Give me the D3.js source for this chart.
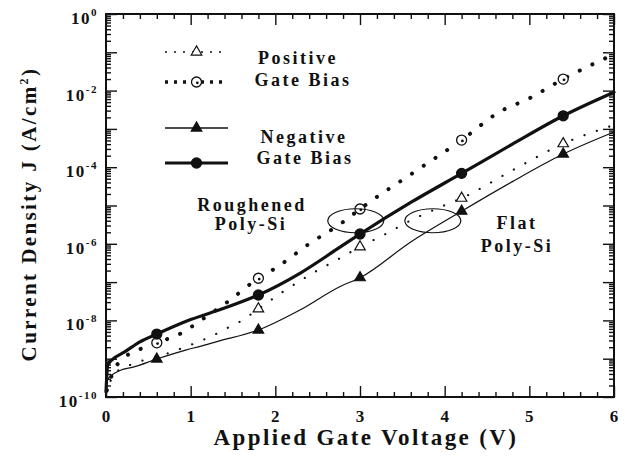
<!DOCTYPE html>
<html>
<head>
<meta charset="utf-8">
<script src="https://cdn.jsdelivr.net/npm/d3@7"></script>
<style>
  body { margin: 0; background: #fff; }
</style>
</head>
<body>
<div id="chart"></div>
<script>
// values: voltage (V) and current density (A/cm^2)
const negRoughV = [0, 0.02, 0.07, 0.22, 0.4, 0.6, 1.0, 1.4, 1.8, 2.3, 2.75, 3.0, 3.6, 4.2, 4.8, 5.4, 6.0];
const negRoughJ = [1.35e-10, 6.9e-10, 9.3e-10, 1.5e-9, 2.75e-9, 4.4e-9, 1.05e-8, 2.1e-8, 4.6e-8, 1.75e-7, 7.8e-7, 1.8e-6, 1.2e-5, 6.9e-5, 4.0e-4, 2.2e-3, 9.1e-3];

const posRoughV = [0.01, 0.04, 0.13, 0.43, 0.6, 0.93, 1.09, 1.44, 1.8, 2.0, 2.4, 2.8, 3.0, 3.6, 4.2, 4.65, 5.0, 5.4, 6.0];
const posRoughJ = [1.5e-10, 2.45e-10, 6.9e-10, 1.9e-9, 2.6e-9, 5.2e-9, 9.0e-9, 3.1e-8, 1.26e-7, 2.3e-7, 1.0e-6, 3.7e-6, 8.1e-6, 6.5e-5, 5.1e-4, 2.8e-3, 6.3e-3, 2.0e-2, 8.9e-2];

const posFlatV = [0, 0.1, 0.3, 0.6, 0.76, 0.93, 1.09, 1.25, 1.43, 1.59, 1.8, 2.09, 2.44, 2.78, 3.0, 3.28, 3.61, 3.96, 4.2, 4.8, 5.4, 6.0];
const posFlatJ = [1.26e-10, 4.0e-10, 7.1e-10, 1.12e-9, 1.45e-9, 2.0e-9, 2.75e-9, 3.9e-9, 6.3e-9, 9.5e-9, 2.0e-8, 5.6e-8, 1.7e-7, 4.4e-7, 8.3e-7, 1.7e-6, 4.2e-6, 9.3e-6, 1.55e-5, 8.3e-5, 4.1e-4, 1.26e-3];

const negFlatV = [0, 0.01, 0.17, 0.32, 0.6, 0.95, 1.11, 1.31, 1.8, 2.29, 2.76, 3.0, 3.6, 4.2, 4.8, 5.4, 6.0];
const negFlatJ = [1e-10, 2.75e-10, 5.0e-10, 6.0e-10, 9.8e-10, 1.7e-9, 2.1e-9, 2.8e-9, 5.6e-9, 1.86e-8, 7.6e-8, 1.3e-7, 1.12e-6, 7.1e-6, 4.2e-5, 2.2e-4, 8.3e-4];

const markerV = [0.6, 1.8, 3.0, 4.2, 5.4];
const posFlatMarkerV = [1.8, 3.0, 4.2, 5.4];

const xTicks = [0, 1, 2, 3, 4, 5, 6];
const yLabelExps = [0, -2, -4, -6, -8, -10];

// ellipses around the crossing points (centre V, centre J)
const ellipseV = [2.95, 3.86];
const ellipseJ = [4.0e-6, 4.0e-6];

const W = 627, H = 465;
const margin = { top: 14, right: 13, bottom: 68, left: 106 };
const width = W - margin.left - margin.right,
      height = H - margin.top - margin.bottom;

const svg = d3.select("#chart").append("svg")
    .attr("width", W).attr("height", H)
    .attr("font-family", "'Liberation Serif', 'Times New Roman', 'DejaVu Serif', serif")
    .attr("font-weight", "bold");
const g = svg.append("g")
    .attr("transform", `translate(${margin.left},${margin.top})`);

const x = d3.scaleLinear().domain([0, 6]).range([0, width]);
const y = d3.scaleLog().domain([1e-10, 1]).range([height, 0]);

// tick values
const decades = d3.range(-10, 1).map(e => Math.pow(10, e));
const minors = [];
d3.range(-10, 0).forEach(e => {
    for (let k = 2; k <= 9; k++) minors.push(k * Math.pow(10, e));
});
const xMinor = d3.range(0, 6.01, 0.2).filter(v => Math.abs(v - Math.round(v)) > 0.01);

function tickAxis(axis, vals, size, transform) {
    const a = g.append("g")
        .attr("transform", transform || null)
        .call(axis.tickValues(vals).tickSize(size).tickFormat(""));
    a.select(".domain").remove();
    a.selectAll("line").attr("stroke", "#111").attr("stroke-width", 1.4);
}
tickAxis(d3.axisLeft(y), decades, -11);
tickAxis(d3.axisLeft(y), minors, -5);
tickAxis(d3.axisRight(y), decades, -11, `translate(${width},0)`);
tickAxis(d3.axisRight(y), minors, -5, `translate(${width},0)`);
tickAxis(d3.axisBottom(x), xTicks, -11, `translate(0,${height})`);
tickAxis(d3.axisBottom(x), xMinor, -5, `translate(0,${height})`);
tickAxis(d3.axisTop(x), xTicks, -11);
tickAxis(d3.axisTop(x), xMinor, -5);

// frame
g.append("rect")
    .attr("width", width).attr("height", height)
    .attr("fill", "none").attr("stroke", "#111").attr("stroke-width", 2);

// tick labels
g.selectAll(".xlab").data(xTicks).enter().append("text")
    .attr("x", d => x(d)).attr("y", height + 25)
    .attr("text-anchor", "middle").attr("font-size", 17)
    .attr("fill", "#111")
    .text(d => d);

const ylab = g.selectAll(".ylab").data(yLabelExps).enter().append("text")
    .attr("x", -8).attr("y", d => y(Math.pow(10, d)) + 10)
    .attr("text-anchor", "end").attr("font-size", 17)
    .attr("letter-spacing", "1.5px").attr("fill", "#111");
ylab.append("tspan").text("10");
ylab.append("tspan").attr("dy", -8).attr("font-size", 11)
    .text(d => d === 0 ? "0" : "-" + (-d));

// axis titles
svg.append("text")
    .attr("x", margin.left + width / 2 + 6).attr("y", 445)
    .attr("text-anchor", "middle").attr("font-size", 23)
    .attr("letter-spacing", "2.4px").attr("fill", "#111")
    .text("Applied Gate Voltage (V)");

const yt = svg.append("text")
    .attr("transform", "translate(36,214) rotate(-90)")
    .attr("text-anchor", "middle").attr("font-size", 21)
    .attr("letter-spacing", "2.4px").attr("fill", "#111");
yt.append("tspan").text("Current Density J (A/cm");
yt.append("tspan").attr("dy", -8).attr("font-size", 12).text("2");
yt.append("tspan").attr("dy", 8).text(")");

// lines
const line = d3.line()
    .x(d => x(d[0])).y(d => y(d[1]))
    .curve(d3.curveMonotoneX);

const series = [
    { v: posFlatV, j: posFlatJ, w: 2.2, dash: "0.1 13", mark: posFlatMarkerV, sym: "triOpen" },
    { v: negFlatV, j: negFlatJ, w: 1.2, dash: null, mark: markerV, sym: "triFill" },
    { v: posRoughV, j: posRoughJ, w: 4, dash: "0.1 14", mark: markerV, sym: "cirOpen" },
    { v: negRoughV, j: negRoughJ, w: 3.2, dash: null, mark: markerV, sym: "cirFill" }
];

series.forEach(s => {
    const pts = s.v.map((v, i) => [v, s.j[i]]);
    g.append("path")
        .datum(pts)
        .attr("d", line)
        .attr("fill", "none")
        .attr("stroke", "#111")
        .attr("stroke-width", s.w)
        .attr("stroke-linecap", "round")
        .attr("stroke-dasharray", s.dash);
});

function drawMarker(sel, sym, px, py) {
    if (sym === "triOpen" || sym === "triFill") {
        sel.append("path")
            .attr("d", d3.symbol().type(d3.symbolTriangle).size(48)())
            .attr("transform", `translate(${px},${py})`)
            .attr("fill", sym === "triFill" ? "#111" : "#fff")
            .attr("stroke", "#111").attr("stroke-width", 1.2);
    } else {
        sel.append("circle").attr("cx", px).attr("cy", py).attr("r", 5)
            .attr("fill", sym === "cirFill" ? "#111" : "#fff")
            .attr("stroke", "#111").attr("stroke-width", 1.3);
        if (sym === "cirOpen") {
            sel.append("circle").attr("cx", px + 0.8).attr("cy", py + 0.8).attr("r", 1.4)
                .attr("fill", "#111");
        }
    }
}

series.forEach(s => {
    s.mark.forEach(mv => {
        const i = s.v.findIndex(v => Math.abs(v - mv) < 1e-6);
        if (i >= 0) drawMarker(g, s.sym, x(s.v[i]), y(s.j[i]));
    });
});

// ellipses
ellipseV.forEach((v, i) => {
    g.append("ellipse")
        .attr("cx", x(v)).attr("cy", y(ellipseJ[i]))
        .attr("rx", 28).attr("ry", 12)
        .attr("fill", "none").attr("stroke", "#111").attr("stroke-width", 1.2);
});

// legend
const leg = [
    { yy: 52, w: 1.6, dash: "2 7", sym: "triOpen" },
    { yy: 82, w: 3.4, dash: "3 6", sym: "cirOpen" },
    { yy: 128, w: 1.4, dash: null, sym: "triFill" },
    { yy: 163, w: 3.2, dash: null, sym: "cirFill" }
];
leg.forEach(l => {
    svg.append("line")
        .attr("x1", 165).attr("x2", 228).attr("y1", l.yy).attr("y2", l.yy)
        .attr("stroke", "#111").attr("stroke-width", l.w)
        .attr("stroke-dasharray", l.dash);
    drawMarker(svg, l.sym, 196.5, l.yy);
});

function label(txt, cx, by) {
    svg.append("text").attr("x", cx).attr("y", by)
        .attr("text-anchor", "middle").attr("font-size", 18)
        .attr("letter-spacing", "2.5px").attr("fill", "#111")
        .text(txt);
}
label("Positive", 298, 64);
label("Gate  Bias", 303, 86);
label("Negative", 304, 143);
label("Gate  Bias", 305, 164);
label("Roughened", 252, 211);
label("Poly-Si", 251, 230);
label("Flat", 517, 229);
label("Poly-Si", 517, 252);
</script>
</body>
</html>
